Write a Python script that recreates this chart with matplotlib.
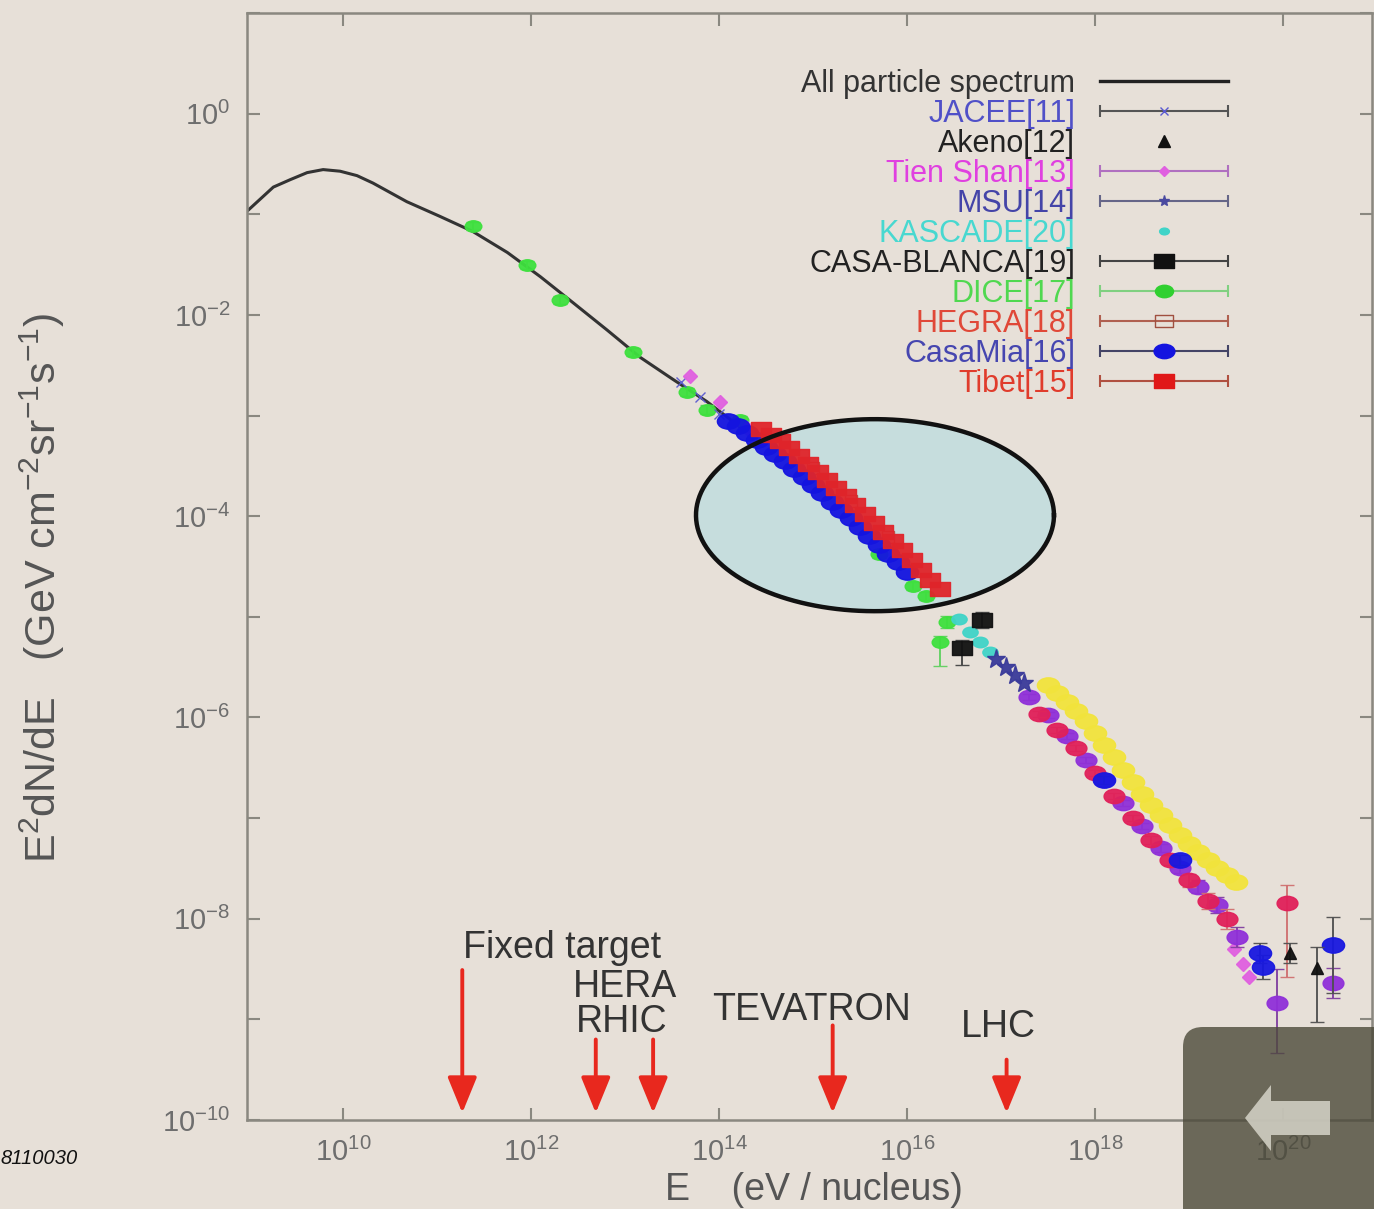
import numpy as np
import matplotlib
matplotlib.use('Agg')
import matplotlib.pyplot as plt
from matplotlib.patches import FancyBboxPatch, FancyArrow
from matplotlib.container import ErrorbarContainer
from matplotlib.legend_handler import HandlerErrorbar
from matplotlib.lines import Line2D
from matplotlib.path import Path
from matplotlib.transforms import Affine2D

plt.rcParams['font.family'] = ['Liberation Sans', 'DejaVu Sans']
plt.rcParams['mathtext.fontset'] = 'custom'
plt.rcParams['mathtext.rm'] = 'Liberation Sans'
plt.rcParams['mathtext.it'] = 'Liberation Sans:italic'
plt.rcParams['mathtext.bf'] = 'Liberation Sans:bold'
plt.rcParams['axes.unicode_minus'] = False

# ---------------- data (log10 E [eV], log10 E^2 dN/dE) ----------------
allpart_logE = [8.98, 9.26, 9.44, 9.62, 9.79, 9.97, 10.15, 10.32, 10.68, 11.03, 11.38, 11.75,
                12.10, 12.45, 12.81, 13.16, 13.51, 13.87, 14.22, 14.40]
allpart_logF = [-0.97, -0.73, -0.656, -0.586, -0.556, -0.572, -0.616, -0.69, -0.875, -1.02, -1.17, -1.38,
                -1.62, -1.88, -2.15, -2.42, -2.64, -2.86, -3.11, -3.22]

jacee_logE = [13.60, 13.80, 14.00]
jacee_logF = [-2.67, -2.82, -2.98]

akeno_logE = [20.07, 20.36]
akeno_logF = [-8.34, -8.49]
akeno_errlo = [0.10, 0.54]
akeno_errhi = [0.10, 0.21]

tienshan_logE = [13.69, 14.01, 14.30, 19.48, 19.58, 19.64]
tienshan_logF = [-2.61, -2.87, -3.12, -8.30, -8.45, -8.58]

msu_logE = [16.95, 17.05, 17.15, 17.25]
msu_logF = [-5.42, -5.50, -5.58, -5.66]

kascade_logE = [16.55, 16.67, 16.78, 16.88]
kascade_logF = [-5.02, -5.15, -5.25, -5.35]

casablanca_logE = [16.59, 16.80]
casablanca_logF = [-5.31, -5.03]
casablanca_errlo = [0.17, 0.08]
casablanca_errhi = [0.08, 0.08]

dice_logE = [11.38, 11.96, 12.31, 13.09, 13.66, 13.87, 14.22, 15.70, 16.06, 16.20, 16.43, 16.35]
dice_logF = [-1.12, -1.50, -1.85, -2.37, -2.77, -2.94, -3.04, -4.38, -4.69, -4.79, -5.05, -5.25]
dice_errlo = [0.04, 0.04, 0.04, 0.04, 0.04, 0.04, 0.04, 0.04, 0.04, 0.04, 0.06, 0.24]
dice_errhi = [0.04, 0.04, 0.04, 0.04, 0.04, 0.04, 0.04, 0.04, 0.04, 0.04, 0.06, 0.06]

hegra_logE = [15.00, 15.40, 15.80]
hegra_logF = [-3.52, -3.85, -4.21]

casamia_logE = [14.10, 14.20, 14.30, 14.40, 14.50, 14.60, 14.70, 14.80, 14.90, 15.00,
                15.10, 15.20, 15.30, 15.40, 15.50, 15.60, 15.70, 15.80, 15.90, 16.00]
casamia_logF = [-3.05, -3.10, -3.17, -3.24, -3.31, -3.38, -3.45, -3.53, -3.61, -3.69,
                -3.77, -3.86, -3.94, -4.02, -4.11, -4.20, -4.29, -4.38, -4.46, -4.55]

tibet_logE = [14.45, 14.55, 14.65, 14.75, 14.85, 14.95, 15.05, 15.15, 15.25, 15.35,
              15.45, 15.55, 15.65, 15.75, 15.85, 15.95, 16.05, 16.15, 16.25, 16.35]
tibet_logF = [-3.13, -3.19, -3.25, -3.32, -3.40, -3.48, -3.56, -3.64, -3.72, -3.80,
              -3.89, -3.98, -4.07, -4.16, -4.25, -4.34, -4.44, -4.53, -4.63, -4.72]

# ultra-high-energy measurements shown without legend entries
uhe_yellow_logE = [17.50, 17.60, 17.70, 17.80, 17.90, 18.00, 18.10, 18.20, 18.30, 18.40, 18.50,
                   18.60, 18.70, 18.80, 18.90, 19.00, 19.10, 19.20, 19.30, 19.40, 19.50]
uhe_yellow_logF = [-5.68, -5.76, -5.85, -5.94, -6.04, -6.15, -6.27, -6.39, -6.52, -6.64, -6.76,
                   -6.87, -6.97, -7.07, -7.17, -7.26, -7.34, -7.42, -7.50, -7.57, -7.64]

uhe_purple_logE = [17.30, 17.50, 17.70, 17.90, 18.10, 18.30, 18.50, 18.70, 18.90, 19.10, 19.30, 19.51, 19.94, 20.53]
uhe_purple_logF = [-5.80, -5.98, -6.18, -6.42, -6.62, -6.85, -7.08, -7.30, -7.50, -7.68, -7.86, -8.18, -8.84, -8.64]
uhe_purple_errlo = [0.03, 0.03, 0.03, 0.03, 0.03, 0.03, 0.03, 0.04, 0.05, 0.06, 0.08, 0.10, 0.49, 0.15]
uhe_purple_errhi = [0.03, 0.03, 0.03, 0.03, 0.03, 0.03, 0.03, 0.04, 0.05, 0.06, 0.08, 0.10, 0.34, 0.15]

uhe_crimson_logE = [17.40, 17.60, 17.80, 18.00, 18.20, 18.40, 18.60, 18.80, 19.00, 19.20, 19.40, 20.04]
uhe_crimson_logF = [-5.97, -6.12, -6.30, -6.55, -6.78, -7.00, -7.22, -7.42, -7.62, -7.82, -8.00, -7.84]
uhe_crimson_errlo = [0.03, 0.03, 0.03, 0.03, 0.03, 0.03, 0.04, 0.05, 0.06, 0.08, 0.10, 0.74]
uhe_crimson_errhi = [0.03, 0.03, 0.03, 0.03, 0.03, 0.03, 0.04, 0.05, 0.06, 0.08, 0.10, 0.18]

uhe_blue_logE = [18.10, 18.90, 19.76, 19.79, 20.53]
uhe_blue_logF = [-6.62, -7.42, -8.34, -8.48, -8.26]
uhe_blue_errlo = [0.04, 0.05, 0.10, 0.12, 0.48]
uhe_blue_errhi = [0.04, 0.05, 0.10, 0.12, 0.28]

# accelerator energies (arrows)
accel_names = ['Fixed target', 'HERA', 'RHIC', 'TEVATRON', 'LHC']
accel_logE = [11.27, 12.69, 13.30, 15.21, 17.06]
accel_arrow_top_logF = [-8.51, -9.20, -9.20, -9.06, -9.40]
accel_label_logE = [12.33, 13.00, 12.97, 14.99, 16.97]
accel_label_logF = [-8.29, -8.68, -9.03, -8.91, -9.08]

x_tick_exponents = [10, 12, 14, 16, 18, 20]
y_tick_exponents = list(range(-10, 2))
y_label_exponents = [-10, -8, -6, -4, -2, 0]

# ---------------- figure ----------------
BG = '#e7e0d8'
fig = plt.figure(figsize=(13.74, 12.09), dpi=100, facecolor=BG)
ax = fig.add_axes([247 / 1374, 89 / 1209, 1125 / 1374, 1107 / 1209])
ax.set_facecolor(BG)
ax.set_xscale('log')
ax.set_yscale('log')
ax.set_xlim(10 ** 8.98, 10 ** 20.947)
ax.set_ylim(1e-10, 1e1)

# horizontally stretched marker shapes (the source image is stretched)
WIDE_O = Path.unit_circle().transformed(Affine2D().scale(1.45, 1.0))
WIDE_S = Path.unit_rectangle().transformed(Affine2D().translate(-0.5, -0.5).scale(1.45, 1.0))


def p(a):
    return 10.0 ** np.asarray(a, dtype=float)


def err(logF, lo, hi):
    f = p(logF)
    return [f - p(np.asarray(logF) - np.asarray(lo)), p(np.asarray(logF) + np.asarray(hi)) - f]


# highlight ellipse (fill under data, outline above data)
ell_cE, ell_cF, ell_a, ell_b = 15.66, -3.99, 1.904, 0.954
t = np.linspace(0, 2 * np.pi, 300)
ex = 10 ** (ell_cE + ell_a * np.cos(t))
ey = 10 ** (ell_cF + ell_b * np.sin(t))
ax.fill(ex, ey, color='#c6dddd', zorder=1.5, lw=0)
ax.plot(ex, ey, color='#111111', lw=3.2, zorder=6)

# all-particle spectrum
ax.plot(p(allpart_logE), p(allpart_logF), color='#333333', lw=2.2, zorder=2)


def series(logE, logF, fmt, color, ms, ecolor=None, lo=None, hi=None, mfc=None, z=3, alpha=0.95):
    yerr = err(logF, lo, hi) if lo is not None else None
    ax.errorbar(p(logE), p(logF), yerr=yerr, marker=fmt, ls='none', color=color, ms=ms,
                mfc=mfc if mfc is not None else color, mec=color, ecolor=ecolor or color,
                elinewidth=1.4, capsize=5, zorder=z, alpha=alpha)


series(uhe_yellow_logE, uhe_yellow_logF, WIDE_O, '#f2e43c', 16, z=3)
series(jacee_logE, jacee_logF, 'x', '#5a5ad0', 7, z=3.2)
series(dice_logE, dice_logF, WIDE_O, '#3ee03e', 12, ecolor='#60d060', lo=dice_errlo, hi=dice_errhi, z=3.1)
series(tienshan_logE, tienshan_logF, 'D', '#e060e0', 7, z=3.3)
series(casamia_logE, casamia_logF, WIDE_O, '#1414e0', 16, z=3.4)
series(hegra_logE, hegra_logF, 's', '#b05040', 8, mfc='none', z=3.35)
series(tibet_logE, tibet_logF, WIDE_S, '#e0242a', 15, z=3.5)
series(kascade_logE, kascade_logF, WIDE_O, '#40d4c8', 11, z=3.6)
series(casablanca_logE, casablanca_logF, WIDE_S, '#111111', 14, ecolor='#444444',
       lo=casablanca_errlo, hi=casablanca_errhi, z=3.7)
series(msu_logE, msu_logF, '*', '#3a3a9a', 14, z=3.6)
series(uhe_purple_logE, uhe_purple_logF, WIDE_O, '#9030d8', 15, ecolor='#8040a0',
       lo=uhe_purple_errlo, hi=uhe_purple_errhi, z=3.4)
series(uhe_crimson_logE, uhe_crimson_logF, WIDE_O, '#e0205a', 15, ecolor='#d07070',
       lo=uhe_crimson_errlo, hi=uhe_crimson_errhi, z=3.5)
series(uhe_blue_logE, uhe_blue_logF, WIDE_O, '#1818e0', 16, ecolor='#505050',
       lo=uhe_blue_errlo, hi=uhe_blue_errhi, z=3.6)
series(akeno_logE, akeno_logF, '^', '#111111', 9, ecolor='#505050',
       lo=akeno_errlo, hi=akeno_errhi, z=3.7)

# accelerator arrows
RED = '#e8281e'
for name, e, ytop, lx, ly in zip(accel_names, accel_logE, accel_arrow_top_logF,
                                  accel_label_logE, accel_label_logF):
    ax.annotate('', xy=(10 ** e, 10 ** -9.93), xytext=(10 ** e, 10 ** ytop),
                arrowprops=dict(arrowstyle='-|>,head_length=1.1,head_width=0.45',
                                color=RED, lw=2.8, mutation_scale=20,
                                shrinkA=0, shrinkB=0), zorder=4)
    ax.text(10 ** lx, 10 ** ly, name, ha='center', va='center', fontsize=27,
            color='#333333', zorder=4)

# legend via proxies
proxy_specs = [
    ('JACEE[11]', 'x', '#5a5ad0', '#555555', '#5050c8', True, 6),
    ('Akeno[12]', '^', '#111111', None, '#222222', False, 8),
    ('Tien Shan[13]', 'D', '#e060e0', '#b070c0', '#e040e0', True, 5),
    ('MSU[14]', '*', '#4a4aa0', '#666688', '#4444a8', True, 8),
    ('KASCADE[20]', WIDE_O, '#40d4c8', None, '#48d8d0', False, 7),
    ('CASA-BLANCA[19]', WIDE_S, '#111111', '#444444', '#222222', True, 15),
    ('DICE[17]', WIDE_O, '#30d030', '#80d080', '#50d850', True, 13),
    ('HEGRA[18]', WIDE_S, '#a05040', '#b06050', '#e04838', True, 13),
    ('CasaMia[16]', WIDE_O, '#1414e0', '#444466', '#4646b0', True, 15),
    ('Tibet[15]', WIDE_S, '#e01818', '#b05040', '#e03c2c', True, 14),
]
handles = [Line2D([], [], color='#222222', lw=2.4)]
labels = ['All particle spectrum']
label_colors = ['#333333']
for lab, mk, col, ecol, tcol, haserr, ms in proxy_specs:
    mfc = 'none' if lab.startswith('HEGRA') else col
    if haserr:
        h = ax.errorbar([np.nan], [np.nan], xerr=[1.0], marker=mk, ls='none', color=col, ms=ms,
                        mfc=mfc, mec=col, ecolor=ecol, elinewidth=1.5, capsize=4, capthick=1.5)
    else:
        h = Line2D([], [], marker=mk, ls='none', color=col, ms=ms)
    handles.append(h)
    labels.append(lab)
    label_colors.append(tcol)

LEG_FS = 22
leg = ax.legend(handles, labels, loc='upper right', bbox_to_anchor=(0.872, 0.9495),
                frameon=False, markerfirst=False, fontsize=LEG_FS, handlelength=4.18,
                handletextpad=0.82, labelspacing=0.0, borderpad=0, borderaxespad=0,
                numpoints=1, handler_map={ErrorbarContainer: HandlerErrorbar(xerr_size=2.09)})
for txt, c in zip(leg.get_texts(), label_colors):
    txt.set_color(c)
leg.set_zorder(7)

# axes styling
SPC = '#8a8880'
for s in ax.spines.values():
    s.set_color(SPC)
    s.set_linewidth(1.8)
ax.set_xticks([10.0 ** k for k in x_tick_exponents])
ax.set_xticklabels([r'$10^{%d}$' % k for k in x_tick_exponents])
ax.xaxis.set_minor_locator(matplotlib.ticker.NullLocator())
ax.set_yticks([10.0 ** k for k in y_tick_exponents])
ax.set_yticklabels([(r'$10^{%d}$' % k) if k in y_label_exponents else '' for k in y_tick_exponents])
ax.yaxis.set_minor_locator(matplotlib.ticker.NullLocator())
ax.tick_params(which='major', direction='in', length=9, width=1.5, color=SPC,
               top=True, right=True, labelsize=21, labelcolor='#6e6e6e')
ax.tick_params(axis='x', pad=13)
ax.tick_params(axis='y', pad=12)

ax.set_xlabel(r'E    (eV / nucleus)', fontsize=27, color='#555555')
ax.xaxis.set_label_coords(0.504, -0.047)
ax.set_ylabel(r'E$^2$dN/dE   (GeV cm$^{-2}$sr$^{-1}$s$^{-1}$)', fontsize=31, color='#555555')
ax.yaxis.set_label_coords(-0.160, 0.481)

fig.text(0.0, 1 - 1158 / 1209, '8110030', style='italic', fontsize=14.5,
         ha='left', va='center', color='#111111')

# slide navigation overlay (bottom right)
box = FancyBboxPatch((11.83, -0.3), 2.3, 2.12, boxstyle='round,pad=0,rounding_size=0.2',
                     transform=fig.dpi_scale_trans, facecolor='#4c4a3a', alpha=0.8,
                     edgecolor='none', zorder=10)
fig.add_artist(box)
arr = FancyArrow(13.30, 0.91, -0.85, 0, width=0.34, head_width=0.66, head_length=0.26,
                 length_includes_head=True, transform=fig.dpi_scale_trans,
                 facecolor='#d6d4c8', edgecolor='none', alpha=0.85, zorder=11)
fig.add_artist(arr)

fig.savefig('out.png', dpi=100, facecolor=BG)
